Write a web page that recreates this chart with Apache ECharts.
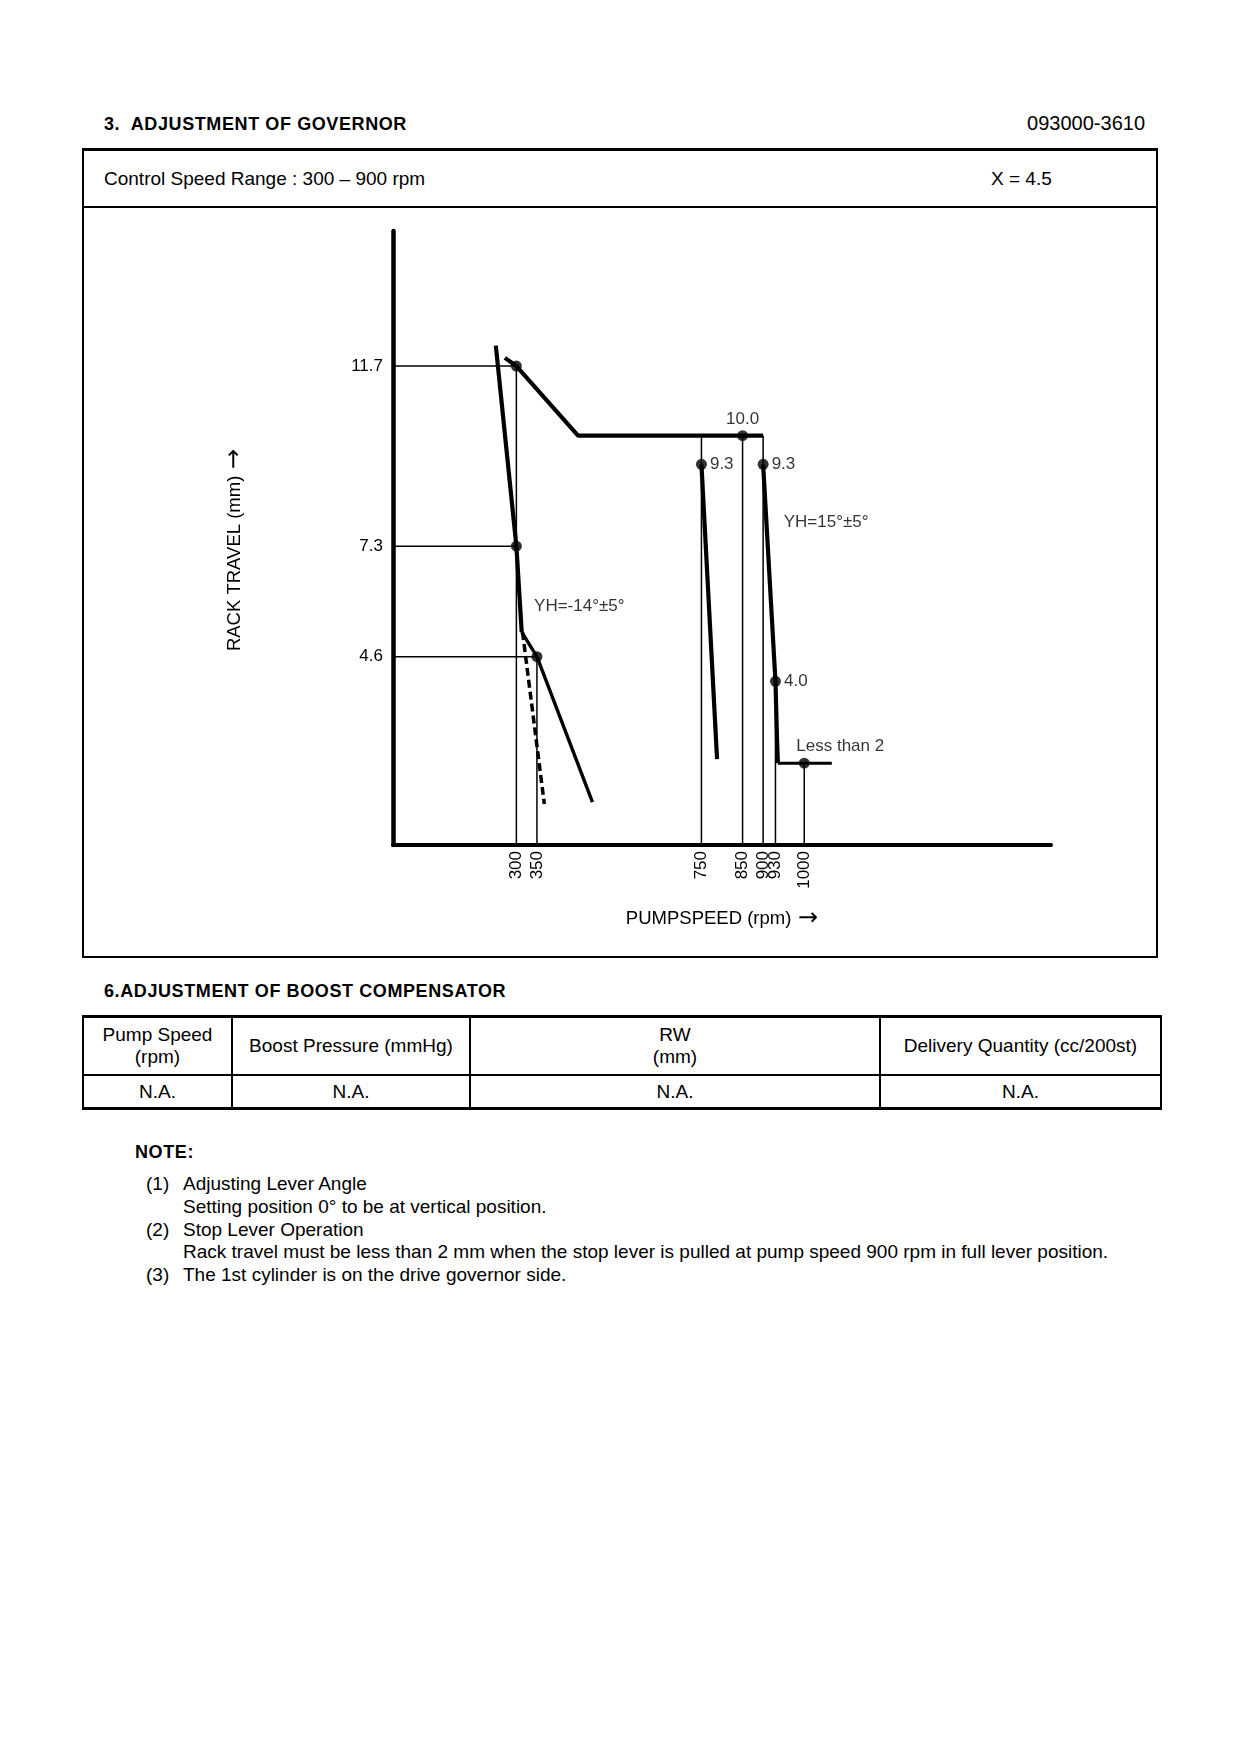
<!DOCTYPE html>
<html>
<head>
<meta charset="utf-8">
<script src="https://cdn.jsdelivr.net/npm/echarts@6/dist/echarts.min.js"></script>
<style>
  body { margin: 0; background: #fff; font-family: "Liberation Sans", Arial, sans-serif; color: #000; }
  #page { position: relative; width: 1240px; height: 1754px; }
  .t { position: absolute; white-space: nowrap; font-size: 19px; line-height: 22px; }
  .b { font-weight: bold; }
  #box { position: absolute; left: 82px; top: 148px; width: 1076px; height: 810px; box-sizing: border-box;
         border: 2px solid #000; border-top-width: 3px; }
  #boxLine { position: absolute; left: 82px; top: 206px; width: 1076px; height: 2px; background: #000; }
  #chart { position: absolute; left: 84px; top: 209px; width: 1072px; height: 747px; }
  table { position: absolute; left: 82px; top: 1015px; width: 1080px; border-collapse: collapse; font-size: 19px;
          border-top: 3px solid #000; border-bottom: 3px solid #000; }
  td { border: 2px solid #000; text-align: center; padding: 0; line-height: 22px; }
  tr.h td { height: 56px; }
  tr.v td { height: 31px; }
</style>
</head>
<body>
<div id="page">
  <div class="t b" style="left:104px; top:113px; font-size:18px; letter-spacing:0.6px;">3.&nbsp; ADJUSTMENT OF GOVERNOR</div>
  <div class="t" style="right:95px; top:112px; font-size:20px;">093000-3610</div>
  <div id="box"></div>
  <div id="boxLine"></div>
  <div class="t" style="left:104px; top:168px;">Control Speed Range : 300 – 900 rpm</div>
  <div class="t" style="left:991px; top:168px;">X = 4.5</div>
  <div id="chart"></div>

  <div class="t b" style="left:104px; top:980px; font-size:18px; letter-spacing:0.6px;">6.ADJUSTMENT OF BOOST COMPENSATOR</div>
  <table>
    <tr class="h">
      <td style="width:147px;">Pump Speed<br>(rpm)</td>
      <td style="width:236px;">Boost Pressure (mmHg)</td>
      <td style="width:408px;">RW<br>(mm)</td>
      <td>Delivery Quantity (cc/200st)</td>
    </tr>
    <tr class="v"><td>N.A.</td><td>N.A.</td><td>N.A.</td><td>N.A.</td></tr>
  </table>

  <div class="t b" style="left:135px; top:1141px; font-size:18px; letter-spacing:0.6px;">NOTE:</div>
  <div class="t" style="left:146px; top:1173px;">(1)</div>
  <div class="t" style="left:183px; top:1173px;">Adjusting Lever Angle</div>
  <div class="t" style="left:183px; top:1196px;">Setting position 0° to be at vertical position.</div>
  <div class="t" style="left:146px; top:1219px;">(2)</div>
  <div class="t" style="left:183px; top:1219px;">Stop Lever Operation</div>
  <div class="t" style="left:183px; top:1241px;">Rack travel must be less than 2 mm when the stop lever is pulled at pump speed 900 rpm in full lever position.</div>
  <div class="t" style="left:146px; top:1264px;">(3)</div>
  <div class="t" style="left:183px; top:1264px;">The 1st cylinder is on the drive governor side.</div>
</div>

<script>
// axis ticks (rpm / mm)
const xTicks = [300, 350, 750, 850, 900, 930, 1000];
const yTicks = [4.6, 7.3, 11.7];

// governor curves: [pump speed rpm, rack travel mm]
const fullLoad = [[272, 11.9], [300, 11.7], [450, 10.0], [900, 10.0]];
const idleSteep = [[250, 12.2], [300, 7.3], [313, 5.2]];
const idleLow = [[313, 5.2], [350, 4.6], [485, 1.05]];
const idleDashed = [[315, 5.2], [368, 1.0]];
const cutLeft = [[750, 9.3], [788, 2.1]];
const cutRight = [[900, 9.3], [930, 4.0], [934, 2.5], [936, 2.0]];
const stopLine = [[936, 2.0], [1067, 2.0]];

// set points and their labels
const setPoints = [[300, 11.7], [300, 7.3], [350, 4.6], [850, 10.0], [750, 9.3], [900, 9.3], [930, 4.0], [1000, 2.0]];
const setLabels = ['', '', '', '10.0', '9.3', '9.3', '4.0', 'Less than 2'];

// thin guide lines
const guides = [
    [[0, 11.7], [300, 11.7]],
    [[0, 7.3], [300, 7.3]],
    [[0, 4.6], [350, 4.6]],
    [[300, 11.7], [300, 0]],
    [[350, 4.6], [350, 0]],
    [[750, 10.0], [750, 0]],
    [[850, 10.0], [850, 0]],
    [[900, 10.0], [900, 0]],
    [[930, 4.0], [930, 0]],
    [[1000, 2.0], [1000, 0]]
];

// notes on the chart
const notes = [[343, 5.83, 'YH=-14°±5°'], [950, 7.88, 'YH=15°±5°']];

const FONT = '"Liberation Sans", Arial, sans-serif';

function initChart() {
    const myChart = echarts.init(document.getElementById('chart'));

    const lineOf = (data, width, type) => ({
        type: 'line',
        data: data,
        symbol: 'none',
        silent: true,
        lineStyle: { color: '#000', width: width, type: type || 'solid', cap: 'butt' },
        z: width > 2 ? 3 : 2
    });

    const series = [];
    guides.forEach(g => series.push(lineOf(g, 1.5)));
    series.push(lineOf(fullLoad, 4.2));
    series.push(lineOf(idleSteep, 4.2));
    series.push(lineOf(idleLow, 3.4));
    series.push(lineOf(idleDashed, 3.5, [8, 4]));
    series.push(lineOf(cutLeft, 4.2));
    series.push(lineOf(cutRight, 4.2));
    series.push(lineOf(stopLine, 3));

    series.push({
        type: 'scatter',
        symbol: 'circle',
        symbolSize: 11,
        itemStyle: { color: '#000' },
        z: 5,
        data: setPoints.map((p, i) => ({
            value: p,
            label: {
                show: setLabels[i] !== '',
                formatter: setLabels[i],
                position: (i === 3 || i === 7) ? 'top' : 'right',
                offset: i === 7 ? [36, 0] : [0, 0],
                distance: i === 3 ? 2 : 3,
                color: '#000',
                fontSize: 17,
                fontFamily: FONT
            }
        }))
    });

    series.push({
        type: 'scatter',
        symbolSize: 0,
        silent: true,
        data: notes.map(n => ({
            value: [n[0], n[1]],
            label: {
                show: true,
                formatter: n[2],
                position: 'inside',
                align: 'left',
                color: '#000',
                fontSize: 17,
                fontFamily: FONT
            }
        }))
    });

    const arrowRich = {
        t: { color: '#000', fontSize: 18.5, fontFamily: FONT },
        a: { color: '#000', fontSize: 24, fontFamily: '"DejaVu Sans", sans-serif' }
    };

    const option = {
        animation: false,
        backgroundColor: 'transparent',
        grid: { left: 309, top: 22, width: 658, height: 614, containLabel: false },
        graphic: [{
            type: 'text',
            x: 151,
            y: 341,
            rotation: Math.PI / 2,
            style: {
                text: '{t|RACK TRAVEL (mm)}  {a|→}',
                rich: arrowRich,
                align: 'center',
                verticalAlign: 'middle'
            }
        }],
        xAxis: {
            type: 'value',
            min: 0,
            max: 1600,
            name: '{t|PUMPSPEED (rpm)}  {a|→}',
            nameLocation: 'middle',
            nameGap: 62,
            nameTextStyle: { rich: arrowRich },
            axisLine: { show: true, onZero: false, lineStyle: { color: '#000', width: 4 } },
            axisTick: { show: false },
            splitLine: { show: false },
            axisLabel: {
                customValues: xTicks,
                formatter: v => String(v),
                rotate: 90,
                margin: 6,
                color: '#000',
                fontSize: 17,
                fontFamily: FONT
            }
        },
        yAxis: {
            type: 'value',
            min: 0,
            max: 15,
            axisLine: { show: true, onZero: false, lineStyle: { color: '#000', width: 4.5 } },
            axisTick: { show: false },
            splitLine: { show: false },
            axisLabel: {
                customValues: yTicks,
                formatter: v => v.toFixed(1),
                margin: 10,
                color: '#000',
                fontSize: 17,
                fontFamily: FONT
            }
        },
        series: series
    };

    myChart.setOption(option);
}

initChart();
</script>
</body>
</html>
